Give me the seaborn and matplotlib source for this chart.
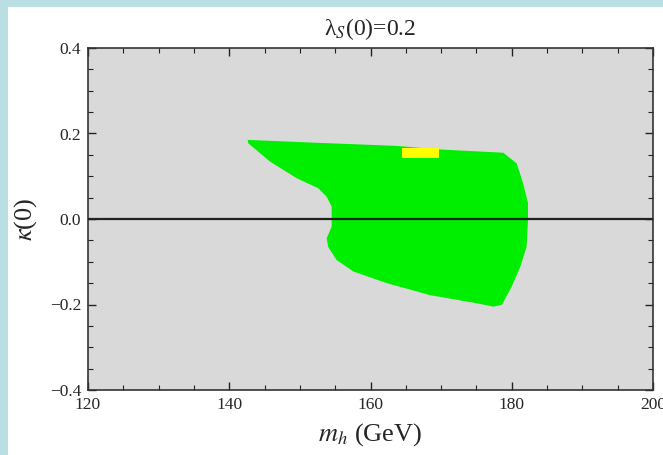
import matplotlib
matplotlib.use("Agg")
import matplotlib.pyplot as plt
from matplotlib.patches import Rectangle
from matplotlib.ticker import MultipleLocator
import seaborn as sns
import pandas as pd

# Allowed region boundary (m_h in GeV, kappa(0))
green_mh = [142.6, 152.9, 163.7, 169.4, 178.8, 180.7, 181.6, 182.3, 182.3, 182.1,
            181.2, 180.0, 178.6, 177.4, 175.0, 168.4, 162.3, 157.6, 155.2, 154.0,
            153.8, 154.5, 154.5, 153.8, 152.6, 149.6, 145.8, 142.7]
green_kappa = [0.185, 0.178, 0.171, 0.163, 0.155, 0.130, 0.084, 0.037, -0.002, -0.065,
               -0.112, -0.158, -0.201, -0.205, -0.197, -0.178, -0.150, -0.123, -0.096, -0.065,
               -0.045, -0.018, 0.029, 0.052, 0.072, 0.095, 0.134, 0.177]
yellow_mh = [164.4, 169.7, 169.7, 164.4]
yellow_kappa = [0.165, 0.165, 0.142, 0.142]

x_ticks = [120, 140, 160, 180, 200]
y_ticks = [-0.4, -0.2, 0.0, 0.2, 0.4]
x_tick_labels = ["120", "140", "160", "180", "200"]
y_tick_labels = ["\u22120.4", "\u22120.2", "0.0", "0.2", "0.4"]

sns.set_style("ticks")
plt.rcParams["font.family"] = ["Liberation Serif", "DejaVu Serif"]
plt.rcParams["mathtext.fontset"] = "stix"

fig = plt.figure(figsize=(6.63, 4.55), dpi=100)
fig.patch.set_facecolor("white")
# light-blue frame strips
fig.patches.append(Rectangle((0, 0), 8 / 663, 1, transform=fig.transFigure,
                             facecolor="#b9dfe2", edgecolor="none", zorder=0))
fig.patches.append(Rectangle((0, 1 - 7 / 455), 1, 7 / 455, transform=fig.transFigure,
                             facecolor="#b9dfe2", edgecolor="none", zorder=0))

ax = fig.add_axes([88 / 663, 1 - 390 / 455, (653 - 88) / 663, (390 - 48) / 455])
ax.set_facecolor("#d9d9d9")

ax.fill(green_mh, green_kappa, color="#00ee00", lw=0, zorder=2)
ax.fill(yellow_mh, yellow_kappa, color="#ffff00", lw=0, zorder=3)

zero = pd.DataFrame({"mh": [120, 200], "k": [0, 0]})
sns.lineplot(data=zero, x="mh", y="k", color="#222222", lw=1.6, ax=ax, zorder=4)

ax.set_xlim(120, 200)
ax.set_ylim(-0.4, 0.4)
ax.set_xticks(x_ticks)
ax.set_xticklabels(x_tick_labels)
ax.set_yticks(y_ticks)
ax.set_yticklabels(y_tick_labels)
ax.xaxis.set_minor_locator(MultipleLocator(5))
ax.yaxis.set_minor_locator(MultipleLocator(0.05))
ax.tick_params(which="both", direction="in", top=True, right=True, color="#222222",
               labelsize=12.5)
ax.tick_params(axis="x", pad=5)
ax.tick_params(axis="y", pad=5)
ax.tick_params(which="major", length=6, width=1)
ax.tick_params(which="minor", length=3.5, width=0.8)
for s in ax.spines.values():
    s.set_color("#333333")
    s.set_linewidth(1.2)

ax.set_xlabel(r"$m_h$ (GeV)", fontsize=19, labelpad=6)
ax.set_ylabel(r"$\kappa$(0)", fontsize=19, labelpad=8)
ax.set_title("\u03bb$_S$(0)=0.2", fontsize=17, pad=9)

fig.savefig("out.png", dpi=100)
